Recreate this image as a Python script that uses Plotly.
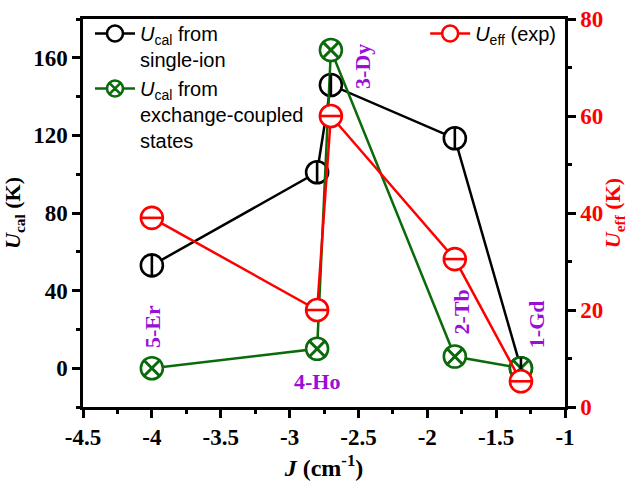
import plotly.graph_objects as go

# Exchange constant J (cm^-1) for each complex
J = [-4.0, -2.8, -2.7, -1.8, -1.32]
complex_labels = ["5-Er", "4-Ho", "3-Dy", "2-Tb", "1-Gd"]

# Energy barriers (K)
u_cal_single_ion = [53, 101, 146, 118.5, 0]
u_cal_exchange = [0, 10, 164, 6, 0]
u_eff_exp = [39, 20, 60, 30.5, 5.3]

# Axis tick values and their printed labels (plain hyphen minus)
x_tick_vals = [-4.5, -4.0, -3.5, -3.0, -2.5, -2.0, -1.5, -1.0]
x_tick_text = ["-4.5", "-4", "-3.5", "-3", "-2.5", "-2", "-1.5", "-1"]
y_tick_vals = [0, 40, 80, 120, 160]
y2_tick_vals = [0, 20, 40, 60, 80]

BLACK = "#000000"
GREEN = "#0B6B0B"
RED = "#FF0000"
PURPLE = "#9A0FD6"
SERIF = "Liberation Serif"
SANS = "Liberation Sans"

MS = 22      # circle marker diameter
MLW = 2.6    # marker outline width
BAR = 15     # inner bar marker size
XSZ = 17     # size of the X drawn across the green circles

fig = go.Figure()

# U_cal from single-ion (circle with vertical bar)
fig.add_trace(go.Scatter(
    x=J, y=u_cal_single_ion, mode="lines+markers",
    name="<i>U</i><sub>cal</sub> from<br>single-ion",
    line=dict(color=BLACK, width=2.5),
    marker=dict(symbol="circle", size=MS, color="white",
                line=dict(color=BLACK, width=MLW)),
    legend="legend",
))

# U_cal from exchange-coupled states (circle with X)
fig.add_trace(go.Scatter(
    x=J, y=u_cal_exchange, mode="lines+markers",
    name="<i>U</i><sub>cal</sub> from<br>exchange-coupled<br>states",
    line=dict(color=GREEN, width=2.5),
    marker=dict(symbol="circle-x", size=MS, color="white",
                line=dict(color=GREEN, width=MLW)),
    legend="legend",
))
fig.add_trace(go.Scatter(
    x=J, y=u_cal_exchange, mode="markers", showlegend=False,
    marker=dict(symbol="x-thin-open", size=XSZ, color=GREEN,
                line=dict(color=GREEN, width=MLW)),
    hoverinfo="skip",
))

fig.add_trace(go.Scatter(
    x=J, y=u_cal_single_ion, mode="markers", showlegend=False,
    marker=dict(symbol="line-ns-open", size=BAR, color=BLACK,
                line=dict(color=BLACK, width=MLW)),
    hoverinfo="skip",
))

# U_eff (exp) on the right axis (circle with horizontal bar)
fig.add_trace(go.Scatter(
    x=J, y=u_eff_exp, mode="lines+markers", yaxis="y2",
    name="<i>U</i><sub>eff</sub> (exp)",
    line=dict(color=RED, width=2.5),
    marker=dict(symbol="circle", size=MS, color="white",
                line=dict(color=RED, width=MLW)),
    legend="legend2",
))
fig.add_trace(go.Scatter(
    x=J, y=u_eff_exp, mode="markers", yaxis="y2", showlegend=False,
    marker=dict(symbol="line-ew-open", size=BAR, color=RED,
                line=dict(color=RED, width=MLW)),
    hoverinfo="skip",
))

# Complex labels placed beside the exchange-coupled points
label_style = [
    dict(xshift=0, yshift=42, textangle=-90),
    dict(xshift=0, yshift=-33, textangle=0),
    dict(xshift=31, yshift=-16, textangle=-90),
    dict(xshift=7, yshift=45, textangle=-90),
    dict(xshift=15, yshift=44, textangle=-90),
]
for xv, yv, txt, st in zip(J, u_cal_exchange, complex_labels, label_style):
    fig.add_annotation(
        x=xv, y=yv, text=f"<b>{txt}</b>", showarrow=False,
        font=dict(family=SERIF, size=22, color=PURPLE),
        xanchor="center", yanchor="middle", **st,
    )


def bold(labels):
    return [f"<b>{t}</b>" for t in labels]


tick_font = dict(family=SERIF, size=23, color=BLACK, weight="bold")
axis_common = dict(
    showline=True, linecolor=BLACK, linewidth=2.5,
    ticks="outside", ticklen=8, tickwidth=2.5, tickcolor=BLACK,
    showgrid=False, zeroline=False, automargin=False,
)

fig.update_layout(
    width=628, height=482,
    margin=dict(l=83, r=63, t=19, b=75),
    paper_bgcolor="white", plot_bgcolor="white",
    font=dict(family=SERIF, color=BLACK),
    xaxis=dict(
        range=[-4.5, -1], tickvals=x_tick_vals, ticktext=bold(x_tick_text),
        mirror=True,
        minor=dict(dtick=0.25, tick0=-4.5, ticks="outside", ticklen=4,
                   tickwidth=2.5, tickcolor=BLACK),
        tickfont=tick_font,
        title=dict(text="<b><i>J</i> (cm<sup>-1</sup>)</b>",
                   font=dict(family=SERIF, size=24, color=BLACK), standoff=10),
        **axis_common,
    ),
    yaxis=dict(
        range=[-20, 180], tickvals=y_tick_vals,
        ticktext=bold([str(v) for v in y_tick_vals]),
        minor=dict(dtick=20, tick0=0, ticks="outside", ticklen=4,
                   tickwidth=2.5, tickcolor=BLACK),
        tickfont=tick_font,
        title=dict(text="<b><i>U</i><sub>cal</sub> (K)</b>",
                   font=dict(family=SERIF, size=22, color=BLACK), standoff=8),
        **axis_common,
    ),
    yaxis2=dict(
        overlaying="y", side="right",
        range=[0, 80], tickvals=y2_tick_vals,
        ticktext=bold([str(v) for v in y2_tick_vals]),
        minor=dict(dtick=10, tick0=0, ticks="outside", ticklen=4,
                   tickwidth=2.5, tickcolor=BLACK),
        tickfont=dict(family=SERIF, size=23, color=RED, weight="bold"),
        title=dict(text="<b><i>U</i><sub>eff</sub> (K)</b>",
                   font=dict(family=SERIF, size=22, color=RED), standoff=8),
        **axis_common,
    ),
    legend=dict(
        x=0.0145, y=1.013, xanchor="left", yanchor="top",
        bgcolor="rgba(0,0,0,0)", borderwidth=0,
        font=dict(family=SANS, size=20, color=BLACK),
        valign="top", itemwidth=40, tracegroupgap=0,
    ),
    legend2=dict(
        x=0.992, y=1.013, xanchor="right", yanchor="top",
        bgcolor="rgba(0,0,0,0)", borderwidth=0,
        font=dict(family=SANS, size=20, color=BLACK),
        valign="top", itemwidth=40,
    ),
    showlegend=True,
)

fig.write_html("out.html")
